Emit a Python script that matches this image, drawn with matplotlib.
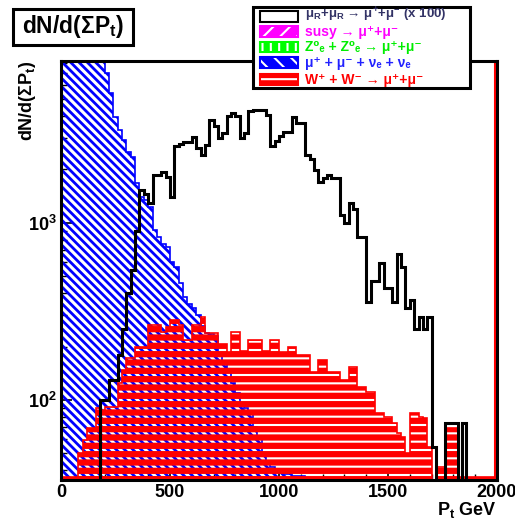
import numpy as np
import matplotlib
matplotlib.use('Agg')
import matplotlib.pyplot as plt
from matplotlib.patches import Rectangle
from matplotlib.ticker import LogLocator, MultipleLocator, NullFormatter

# ---------------- data (20 GeV bins, 0..2000 GeV) ----------------
x_min, x_max, n_bins = 0, 2000, 100

mumu_x100 = [
    0, 0, 0, 0, 0, 0, 0, 0, 0, 100,
    100, 130, 130, 180, 250, 400, 540, 900, 1530, 1450,
    1300, 1860, 1860, 1930, 1810, 1400, 2700, 2800, 2850, 2850,
    3050, 2650, 2400, 2750, 3800, 3500, 3000, 3200, 4000, 4160,
    4000, 3000, 3200, 4300, 4330, 4330, 4330, 4050, 2700, 2900,
    3100, 3240, 3240, 3960, 3650, 3650, 2400, 2300, 1980, 1700,
    1800, 1850, 1800, 1800, 1100, 1000, 1300, 1200, 830, 830,
    355, 470, 470, 590, 430, 430, 355, 670, 560, 330,
    365, 250, 293, 250, 293, 54, 0, 0, 74, 74,
    74, 0, 74, 0, 0, 0, 0, 0, 0, 0,
]

susy = [
    0, 0, 0, 0, 0, 0, 0, 0, 0, 0,
    0, 0, 0, 0, 0, 0, 0, 0, 0, 0,
    0, 0, 0, 0, 0, 0, 0, 0, 0, 0,
    0, 0, 0, 0, 0, 0, 0, 0, 0, 0,
    0, 0, 0, 0, 0, 0, 0, 0, 0, 0,
    0, 0, 0, 0, 0, 0, 0, 0, 0, 0,
    0, 0, 0, 0, 0, 0, 0, 0, 0, 0,
    0, 0, 0, 0, 0, 0, 0, 0, 0, 0,
    0, 0, 0, 0, 0, 0, 0, 0, 0, 0,
    0, 0, 0, 0, 0, 0, 0, 0, 0, 0,
]

zz = [
    0, 0, 0, 0, 36.5, 36.5, 36.5, 36.5, 36.5, 36.5,
    36.5, 36.5, 36.5, 36.5, 36.5, 36.5, 36.5, 36.5, 36.5, 36.5,
    36.5, 36.5, 36.5, 36.5, 36.5, 36.5, 36.5, 36.5, 36.5, 36.5,
    36.5, 36.5, 36.5, 36.5, 36.5, 36.5, 36.5, 36.5, 36.5, 36.5,
    36.5, 36.5, 36.5, 36.5, 36.5, 36.5, 36.5, 36.5, 0, 0,
    0, 0, 0, 0, 0, 0, 0, 0, 0, 0,
    0, 0, 0, 0, 0, 0, 0, 0, 0, 0,
    0, 0, 0, 0, 0, 0, 0, 0, 0, 0,
    0, 0, 0, 0, 0, 0, 0, 0, 0, 0,
    0, 0, 0, 0, 0, 0, 0, 0, 0, 0,
]

mumununu = [
    30000, 25000, 22000, 20000, 18000, 16000, 14000, 12500, 11000, 9500,
    7000, 5400, 3950, 3340, 2930, 2500, 2350, 1675, 1400, 1343,
    1227, 910, 830, 760, 729, 600, 562, 457, 380, 350,
    330, 300, 260, 240, 235, 230, 180, 165, 145, 125,
    110, 95, 90, 85, 70, 60, 50, 45, 42, 40,
    40, 38, 38, 37, 37, 37, 36, 36, 36, 36,
    36, 36, 36, 36, 36, 36, 36, 36, 36, 36,
    36, 36, 36, 36, 36, 36, 36, 36, 36, 36,
    36, 36, 36, 36, 36, 0, 0, 0, 0, 0,
    0, 0, 0, 0, 0, 0, 0, 0, 0, 0,
]

ww = [
    36.5, 36.5, 36.5, 36.5, 50, 59, 69, 69, 90, 88,
    91, 91, 91, 124, 147, 172, 172, 198, 198, 198,
    264, 264, 264, 241, 258, 282, 282, 264, 218, 218,
    264, 264, 293, 238, 238, 238, 208, 208, 186, 241,
    241, 190, 190, 218, 218, 218, 190, 190, 218, 218,
    186, 186, 198, 198, 180, 180, 180, 144, 144, 168,
    168, 144, 144, 144, 129, 129, 153, 153, 118, 118,
    111, 111, 84, 84, 80, 80, 74, 65, 62, 50,
    84, 84, 80, 79, 54, 30, 42, 42, 69, 69,
    69, 36.5, 36.5, 36.5, 36.5, 36.5, 36.5, 36.5, 36.5, 36.5,
]

x_ticks = [0, 500, 1000, 1500, 2000]
x_tick_labels = ['0', '500', '1000', '1500', '2000']
y_ticks = [100, 1000]
y_tick_labels = [r'$10^{2}$', r'$10^{3}$']

legend_labels = [
    r'$\mu_R$+$\mu_R$ → $\mu^{+}$+$\mu^{-}$ (x 100)',
    'susy → μ⁺+μ⁻',
    'Z⁰ₑ + Z⁰ₑ → μ⁺+μ⁻',
    'μ⁺ + μ⁻ + νₑ + νₑ',
    'W⁺ + W⁻ → μ⁺+μ⁻',
]

# ---------------- style ----------------
plt.rcParams['font.family'] = ['Liberation Sans', 'DejaVu Sans']
plt.rcParams['font.weight'] = 'bold'
plt.rcParams['mathtext.fontset'] = 'custom'
plt.rcParams['mathtext.rm'] = 'Liberation Sans:bold'
plt.rcParams['mathtext.it'] = 'Liberation Sans:bold'
plt.rcParams['mathtext.bf'] = 'Liberation Sans:bold'
plt.rcParams['mathtext.sf'] = 'Liberation Sans:bold'
plt.rcParams['mathtext.default'] = 'rm'

W, H = 515, 522
fig = plt.figure(figsize=(W / 100, H / 100), dpi=100)
fig.patch.set_facecolor('white')


def fx(px):
    return px / W


def fy(py):
    return 1 - py / H


def with_hatch_lw(artist, lw):
    """Draw this artist with its own hatch line width."""
    orig = artist.draw

    def draw(renderer, *args, **kwargs):
        with matplotlib.rc_context({'hatch.linewidth': lw}):
            return orig(renderer, *args, **kwargs)
    artist.draw = draw
    if hasattr(artist, 'set_hatch_linewidth'):
        artist.set_hatch_linewidth(lw)
    return artist


ax = fig.add_axes([fx(61), 1 - 480 / H, (497 - 61) / W, (480 - 61) / H])
edges = np.linspace(x_min, x_max, n_bins + 1)
floor = 1.0


def hist(values, color, hatch, hlw, lw=1.2):
    v = np.maximum(np.asarray(values, dtype=float), floor)
    p = ax.stairs(v, edges, baseline=floor, fill=True, facecolor='none',
                  edgecolor=color, hatch=hatch, linewidth=lw)
    return with_hatch_lw(p, hlw)


hist(zz, '#00ff00', '||', 1.5)
hist(susy, '#ff00ff', '//', 1.5)
hist(mumununu, '#0000ff', '\\\\\\\\', 2.0)
hist(ww, '#ff0000', '--', 4.5)

vb = np.maximum(np.asarray(mumu_x100, dtype=float), floor)
ax.stairs(vb, edges, baseline=floor, fill=False, color='black', linewidth=2.2)

ax.axvline(1990, color='#ff0000', linewidth=1.5, zorder=3)

ax.set_yscale('log')
ax.set_xlim(x_min, x_max)
ax.set_ylim(35.3, 8195)
ax.set_axisbelow(True)

ax.set_xticks(x_ticks, labels=x_tick_labels)
ax.xaxis.set_minor_locator(MultipleLocator(100))
ax.set_yticks(y_ticks, labels=y_tick_labels)
ax.yaxis.set_minor_locator(LogLocator(base=10, subs=range(2, 10)))
ax.yaxis.set_minor_formatter(NullFormatter())
ax.tick_params(axis='both', which='major', direction='in', length=8, width=1.2,
               labelsize=13, top=False, right=False)
ax.tick_params(axis='both', which='minor', direction='in', length=4, width=1.0,
               top=False, right=False)
ax.tick_params(axis='x', which='major', pad=3)
ax.tick_params(axis='y', which='major', pad=3)
for s in ax.spines.values():
    s.set_linewidth(2.2)
    s.set_zorder(5)

# axis titles
fig.text(fx(497), fy(510), r'P$_t$ GeV', ha='right', va='center', fontsize=13)
fig.text(fx(27), fy(60), r'dN/d(ΣP$_t$)', rotation=90, ha='center', va='top',
         fontsize=13)

# title box
fig.add_artist(Rectangle((fx(13), fy(45)), (133 - 13) / W, (45 - 9) / H,
                         transform=fig.transFigure, facecolor='white',
                         edgecolor='black', linewidth=2.2))
fig.text(fx(73), fy(27), r'dN/d(ΣP$_t$)', ha='center', va='center', fontsize=16.5)

# legend box
fig.add_artist(Rectangle((fx(253), fy(88)), (470 - 253) / W, (88 - 7) / H,
                         transform=fig.transFigure, facecolor='white',
                         edgecolor='black', linewidth=2.2, zorder=10))
leg_y = [16.5, 31.5, 47.0, 62.5, 79.5]
leg_text_y = [15.0, 32.0, 47.0, 62.5, 79.5]
leg_face = ['white', '#ff00ff', '#00ff00', '#0000ff', '#ff0000']
leg_edge = ['black', '#ff00ff', '#00ff00', '#0000ff', '#ff0000']
leg_hatch = [None, '//', '||', '\\\\', '--']
leg_text_color = ['#333366', '#ff00ff', '#00ee00', '#2222ff', '#ff0000']
leg_size = [9.5, 10, 10, 10, 10]
for yc, ty, fc, ec, hc, tc, fs, lab in zip(leg_y, leg_text_y, leg_face,
                                           leg_edge, leg_hatch, leg_text_color,
                                           leg_size, legend_labels):
    r = Rectangle((fx(260), fy(yc + 5)), 38 / W, 10 / H,
                  transform=fig.transFigure, facecolor=fc, edgecolor=ec,
                  linewidth=1.5, zorder=11)
    fig.add_artist(r)
    if hc is not None:
        h = Rectangle((fx(261), fy(yc + 4)), 36 / W, 8 / H,
                      transform=fig.transFigure, facecolor='none',
                      edgecolor='white', linewidth=0, hatch=hc, zorder=12)
        fig.add_artist(with_hatch_lw(h, 1.5))
    fig.text(fx(305), fy(ty), lab, ha='left', va='center', fontsize=fs,
             color=tc, zorder=13)

fig.savefig('out.png', dpi=100, facecolor='white')
